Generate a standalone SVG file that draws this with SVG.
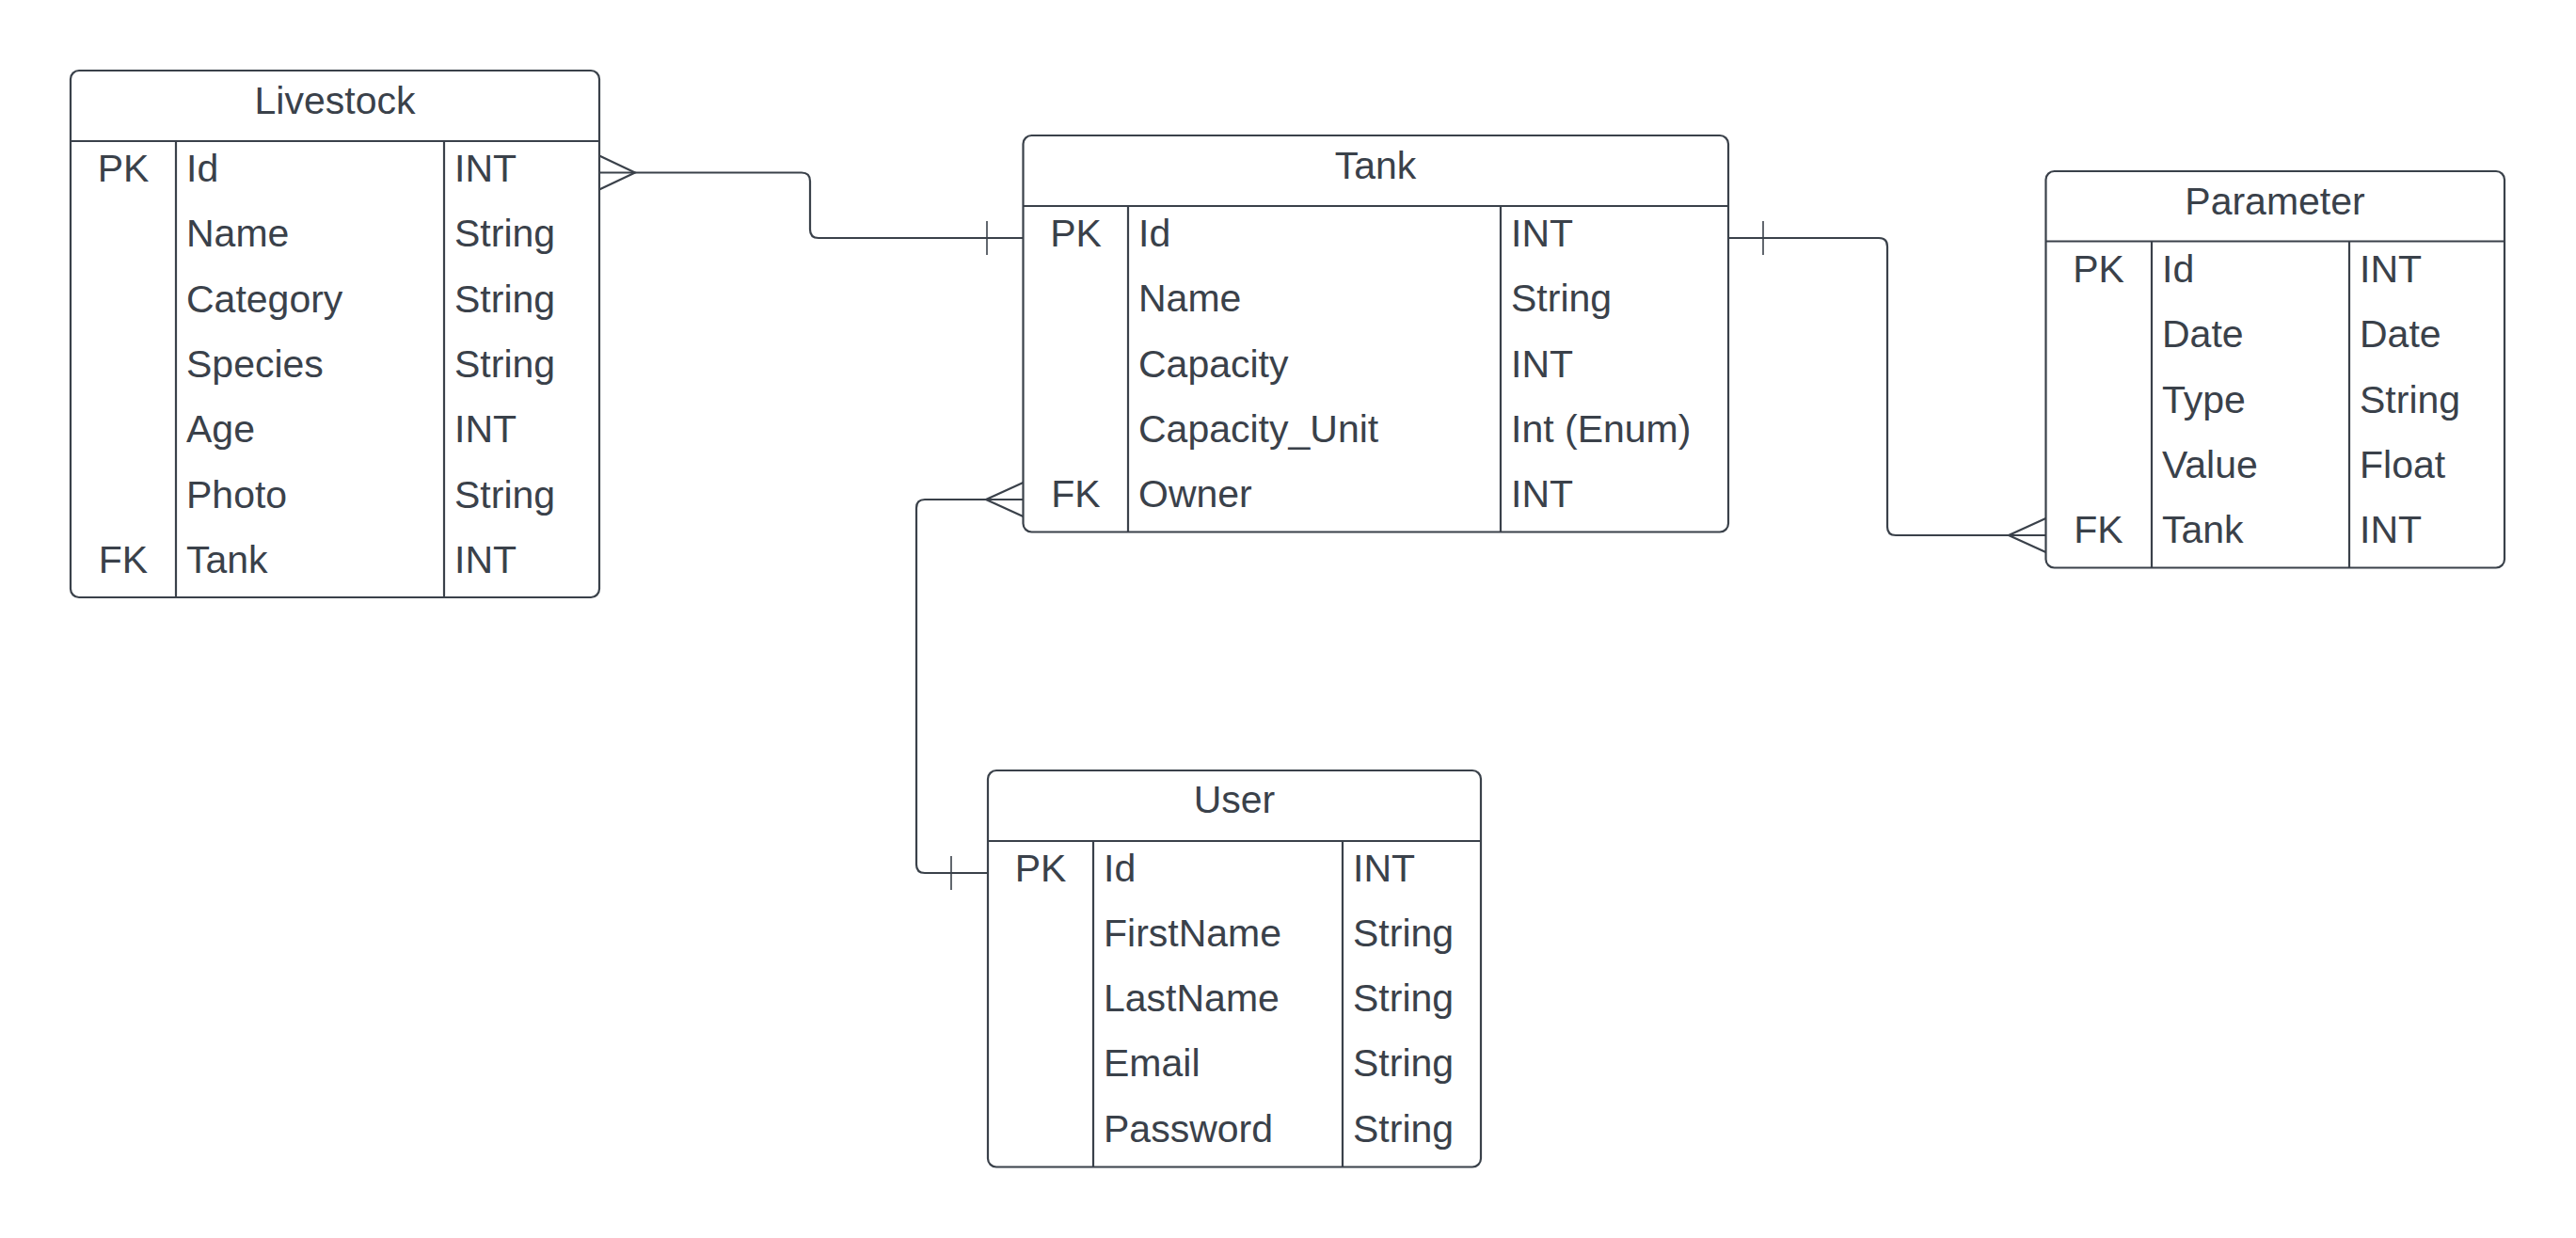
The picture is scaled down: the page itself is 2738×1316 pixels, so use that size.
<svg xmlns="http://www.w3.org/2000/svg" width="2738" height="1316" viewBox="0 0 2738 1316">
<style>
.box{fill:#ffffff;stroke:#3a414a;stroke-width:2.2}
.ln{stroke:#3a414a;stroke-width:2.2;fill:none}
.cn{stroke:#3a414a;stroke-width:2.2;fill:none}
.bar{stroke:#3a414a;stroke-width:1.6;fill:none}
text{font-family:"Liberation Sans",Arial,sans-serif;font-size:41px;fill:#3a414a}
.t{text-anchor:middle}
.k{text-anchor:middle}
</style>
<rect width="2738" height="1316" fill="#ffffff"/>
<g id="connectors">
  <path class="cn" d="M637,183.5 H852 Q861,183.5 861,192.5 V244 Q861,253 870,253 H1087.5"/>
  <path class="cn" d="M637,165.5 L675,183.5 L637,201.5"/>
  <path class="bar" d="M1049,235 V271"/>
  <path class="cn" d="M1837,253 H1997 Q2006,253 2006,262 V560 Q2006,569 2015,569 H2174.5"/>
  <path class="bar" d="M1874,235 V271"/>
  <path class="cn" d="M2174.5,551 L2135,569 L2174.5,587"/>
  <path class="cn" d="M1087.5,531 H983 Q974,531 974,540 V919 Q974,928 983,928 H1050"/>
  <path class="cn" d="M1087.5,513 L1048,531 L1087.5,549"/>
  <path class="bar" d="M1011,910 V946"/>
</g>
<g id="livestock">
  <rect class="box" x="75" y="75" width="562" height="560" rx="9"/>
  <path class="ln" d="M75,150 H637 M187,150 V635 M472,150 V635"/>
  <text class="t" x="356" y="120.5">Livestock</text>
  <text class="k" x="131" y="193">PK</text>
  <text class="k" x="131" y="608.8">FK</text>
  <text x="198" y="193">Id</text>
  <text x="198" y="262.3">Name</text>
  <text x="198" y="331.6">Category</text>
  <text x="198" y="400.9">Species</text>
  <text x="198" y="470.2">Age</text>
  <text x="198" y="539.5">Photo</text>
  <text x="198" y="608.8">Tank</text>
  <text x="483" y="193">INT</text>
  <text x="483" y="262.3">String</text>
  <text x="483" y="331.6">String</text>
  <text x="483" y="400.9">String</text>
  <text x="483" y="470.2">INT</text>
  <text x="483" y="539.5">String</text>
  <text x="483" y="608.8">INT</text>
</g>
<g id="tank">
  <rect class="box" x="1087.5" y="144" width="749.5" height="421.5" rx="9"/>
  <path class="ln" d="M1087.5,219 H1837 M1199,219 V565.5 M1595,219 V565.5"/>
  <text class="t" x="1462" y="189.5">Tank</text>
  <text class="k" x="1143.5" y="262">PK</text>
  <text class="k" x="1143.5" y="539.2">FK</text>
  <text x="1210" y="262">Id</text>
  <text x="1210" y="331.3">Name</text>
  <text x="1210" y="400.6">Capacity</text>
  <text x="1210" y="469.9">Capacity_Unit</text>
  <text x="1210" y="539.2">Owner</text>
  <text x="1606" y="262">INT</text>
  <text x="1606" y="331.3">String</text>
  <text x="1606" y="400.6">INT</text>
  <text x="1606" y="469.9">Int (Enum)</text>
  <text x="1606" y="539.2">INT</text>
</g>
<g id="parameter">
  <rect class="box" x="2174.5" y="182" width="487.5" height="421.5" rx="9"/>
  <path class="ln" d="M2174.5,256.5 H2662 M2287,256.5 V603.5 M2497,256.5 V603.5"/>
  <text class="t" x="2418" y="227.5">Parameter</text>
  <text class="k" x="2230.5" y="300">PK</text>
  <text class="k" x="2230.5" y="577.2">FK</text>
  <text x="2298" y="300">Id</text>
  <text x="2298" y="369.3">Date</text>
  <text x="2298" y="438.6">Type</text>
  <text x="2298" y="507.9">Value</text>
  <text x="2298" y="577.2">Tank</text>
  <text x="2508" y="300">INT</text>
  <text x="2508" y="369.3">Date</text>
  <text x="2508" y="438.6">String</text>
  <text x="2508" y="507.9">Float</text>
  <text x="2508" y="577.2">INT</text>
</g>
<g id="user">
  <rect class="box" x="1050" y="819" width="524" height="421.5" rx="9"/>
  <path class="ln" d="M1050,894 H1574 M1162,894 V1240.5 M1427,894 V1240.5"/>
  <text class="t" x="1312" y="864">User</text>
  <text class="k" x="1106" y="936.5">PK</text>
  <text x="1173" y="936.5">Id</text>
  <text x="1173" y="1005.8">FirstName</text>
  <text x="1173" y="1075.1">LastName</text>
  <text x="1173" y="1144.4">Email</text>
  <text x="1173" y="1213.7">Password</text>
  <text x="1438" y="936.5">INT</text>
  <text x="1438" y="1005.8">String</text>
  <text x="1438" y="1075.1">String</text>
  <text x="1438" y="1144.4">String</text>
  <text x="1438" y="1213.7">String</text>
</g>
</svg>
